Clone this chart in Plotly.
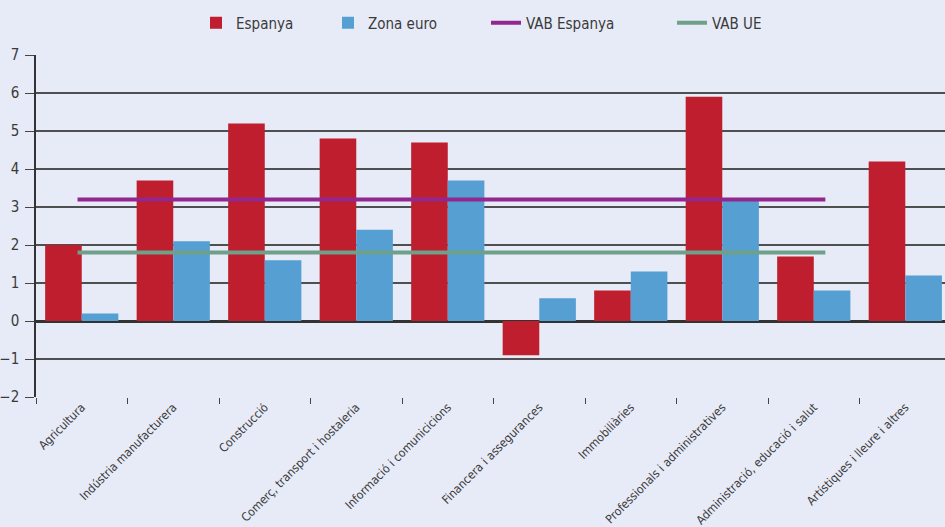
import plotly.graph_objects as go

categories = ["Agricultura", "Indústria manufacturera", "Construcció",
              "Comerç, transport i hostaleria", "Informació i comunicicions",
              "Financera i assegurances", "Immobiliàries",
              "Professionals i administratives", "Administració, educació i salut",
              "Artístiques i lleure i altres"]
espanya = [2.0, 3.7, 5.2, 4.8, 4.7, -0.9, 0.8, 5.9, 1.7, 4.2]
zona_euro = [0.2, 2.1, 1.6, 2.4, 3.7, 0.6, 1.3, 3.2, 0.8, 1.2]
vab_espanya = [3.2] * 10
vab_ue = [1.8] * 10
line_pos = list(range(10))

y_ticks = [-2, -1, 0, 1, 2, 3, 4, 5, 6, 7]
y_tick_text = ["\u22122", "\u22121", "0", "1", "2", "3", "4", "5", "6", "7"]

FONT = "DejaVu Sans Condensed, Liberation Sans Narrow, Liberation Sans, sans-serif"
TXT = "#3a3a3a"
BG = "#E7EBF7"
W, H = 945, 527

fig = go.Figure()
fig.add_trace(go.Bar(x=categories, y=espanya, name="Espanya", legend="legend",
                     marker=dict(color="#BE1E2D", line=dict(width=0))))
fig.add_trace(go.Bar(x=categories, y=zona_euro, name="Zona euro", legend="legend2",
                     marker=dict(color="#569FD3", line=dict(width=0))))
fig.add_trace(go.Scatter(x=line_pos, y=vab_espanya, name="VAB Espanya", mode="lines",
                         legend="legend3",
                         line=dict(color="#92278F", width=4), xaxis="x2"))
fig.add_trace(go.Scatter(x=line_pos, y=vab_ue, name="VAB UE", mode="lines",
                         legend="legend4",
                         line=dict(color="#6FA08A", width=4), xaxis="x2"))


def leg(px):
    return dict(orientation="h", xref="container", yref="container",
                x=px / W, xanchor="left", y=1 - 23 / H, yanchor="middle",
                font=dict(size=15, color=TXT), bgcolor="rgba(0,0,0,0)",
                itemwidth=30, borderwidth=0)


fig.update_layout(
    width=W, height=H,
    margin=dict(l=36, r=0, t=55, b=130),
    paper_bgcolor=BG, plot_bgcolor=BG,
    font=dict(family=FONT, color=TXT, size=14),
    barmode="group", bargap=0.2, bargroupgap=0,
    showlegend=True, hovermode=False,
    legend=leg(196), legend2=leg(328), legend3=leg(486), legend4=leg(672),
    xaxis=dict(type="category", range=[-0.5, 9.434], tickangle=-45,
               tickson="boundaries", ticks="outside", ticklen=6, tickcolor="#444",
               tickwidth=1, showgrid=False, showline=False, zeroline=False,
               tickfont=dict(size=12, color=TXT), automargin=False),
    xaxis2=dict(overlaying="x", range=[-0.5, 10.44], visible=False, showgrid=False,
                zeroline=False),
    yaxis=dict(range=[-2, 7], tickvals=y_ticks, ticktext=y_tick_text,
               ticks="outside", ticklen=9, tickcolor="#444", tickwidth=1,
               showgrid=True, gridcolor="#4f4f4f", gridwidth=1.5,
               zeroline=True, zerolinecolor="#333", zerolinewidth=2.5,
               showline=True, linecolor="#333", linewidth=1.5,
               tickfont=dict(size=15, color=TXT), ticklabelstandoff=3,
               automargin=False),
)

fig.write_html("out.html", config={"displayModeBar": False},
               post_script="document.body.style.margin='0';"
                           "document.body.style.background='%s';" % BG)
